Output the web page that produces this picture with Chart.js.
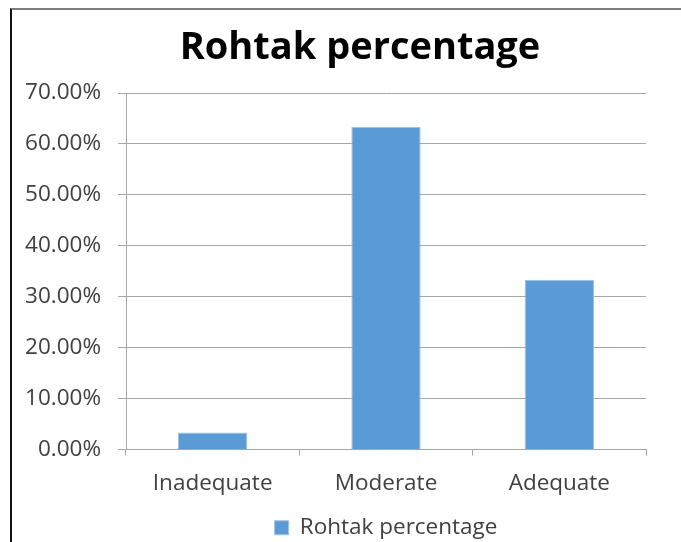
<!DOCTYPE html>
<html>
<head>
<meta charset="utf-8">
<script src="https://cdn.jsdelivr.net/npm/chart.js@4"></script>
<style>
  html, body { margin: 0; padding: 0; background: #fff; }
  #wrap { position: relative; width: 681px; height: 542px; }
  #frame {
    position: absolute; left: 10px; top: 8px; right: 0; bottom: -4px;
    border-top: 2px solid #7f7f7f; border-left: 2px solid #111;
    pointer-events: none;
  }
</style>
</head>
<body>
<div id="wrap">
  <canvas id="chart" width="681" height="542"></canvas>
  <div id="frame"></div>
</div>
<script>
const categories = ['Inadequate', 'Moderate', 'Adequate']
const seriesName = 'Rohtak percentage'
const values = [3.33, 63.33, 33.33]
const yMax = 70
const yStep = 10

const textColor = '#404040'
const gridColor = '#a6a6a6'
const barColor = '#5b9bd5'
const fontFamily = '"Open Sans", "Liberation Sans", sans-serif'
const labelSize = 22.5

// chart title sits a bit left of the plot centre, so draw it by hand
const headingPlugin = {
  id: 'heading',
  afterDraw(chart) {
    const ctx = chart.ctx
    ctx.save()
    ctx.fillStyle = '#000'
    ctx.font = `bold 38px ${fontFamily}`
    ctx.textAlign = 'center'
    ctx.textBaseline = 'alphabetic'
    ctx.fillText(seriesName, 360, 59)
    ctx.restore()
  }
}

new Chart(document.getElementById('chart'), {
  type: 'bar',
  data: {
    labels: categories,
    datasets: [{
      label: seriesName,
      data: values,
      backgroundColor: barColor,
      borderColor: '#9cc3e5',
      borderWidth: 1,
      categoryPercentage: 1,
      barPercentage: 0.4
    }]
  },
  plugins: [headingPlugin],
  options: {
    responsive: false,
    animation: false,
    layout: { padding: { left: 0, right: 35, top: 93, bottom: -7 } },
    plugins: {
      title: { display: false },
      legend: {
        position: 'bottom',
        fullSize: false,
        labels: {
          color: textColor,
          boxWidth: 14,
          boxHeight: 14,
          padding: 0,
          font: { family: fontFamily, size: labelSize }
        }
      },
      tooltip: { enabled: false }
    },
    scales: {
      x: {
        grid: { drawOnChartArea: false, tickLength: 6, color: gridColor },
        border: { color: gridColor },
        ticks: { color: textColor, padding: 15, font: { family: fontFamily, size: labelSize } },
        afterFit: scale => { scale.height = 67 }
      },
      y: {
        min: 0,
        max: yMax,
        grid: { color: gridColor, tickLength: 8 },
        border: { color: gridColor },
        ticks: {
          stepSize: yStep,
          color: textColor,
          padding: 17,
          font: { family: fontFamily, size: labelSize },
          callback: v => v.toFixed(2) + '%'
        },
        afterFit: scale => { scale.width = 126 }
      }
    }
  }
})
</script>
</body>
</html>
